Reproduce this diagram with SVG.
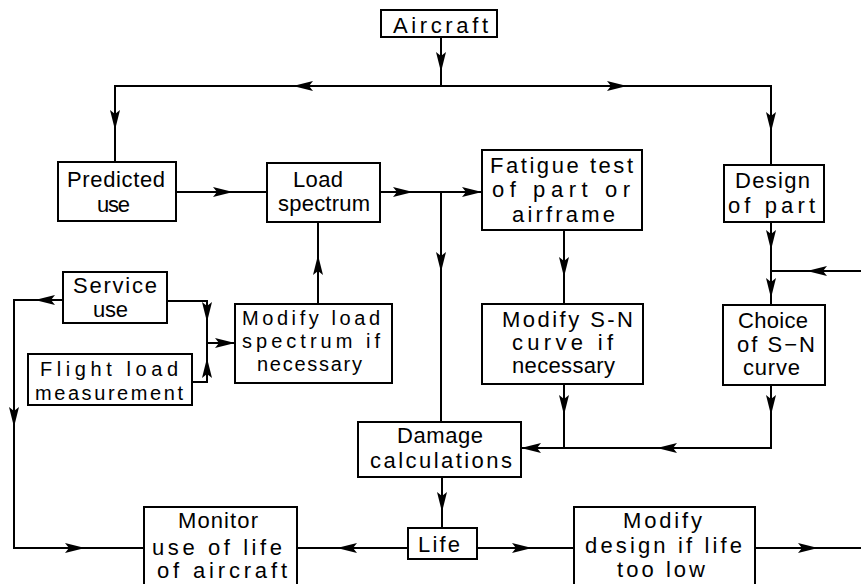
<svg xmlns="http://www.w3.org/2000/svg" width="861" height="584" viewBox="0 0 861 584">
  <style>
    .box { fill: #fff; stroke: #000; stroke-width: 2; }
    .lbl { font-family: "Liberation Sans", Arial, sans-serif; font-size: 22px; fill: #000; }
    .lbl.tight { font-size: 20px; }
    .wire { fill: none; stroke: #000; stroke-width: 2; }
  </style>
  <defs>
    <!-- arrowhead pointing along +x, tip at origin -->
    <path id="ah" d="M0,0 L-20,-5 L-16,0 L-20,5 Z" fill="#000"/>
  </defs>
  <rect width="861" height="584" fill="#fff"/>

  <g id="connectors">
    <path class="wire" d="M441,36 V86"/>
    <path class="wire" d="M115,162 V86 H771 V165"/>
    <path class="wire" d="M176,192 H267"/>
    <path class="wire" d="M380,192 H482"/>
    <path class="wire" d="M441,192 V422"/>
    <path class="wire" d="M564,230 V304"/>
    <path class="wire" d="M771,222 V305"/>
    <path class="wire" d="M861,271 H771"/>
    <path class="wire" d="M564,384 V448"/>
    <path class="wire" d="M771,385 V448 H521"/>
    <path class="wire" d="M442,477 V528"/>
    <path class="wire" d="M408,548 H297"/>
    <path class="wire" d="M477,548 H574"/>
    <path class="wire" d="M755,548 H861"/>
    <path class="wire" d="M63,300 H14 V548 H144"/>
    <path class="wire" d="M167,301 H207 V382 H192"/>
    <path class="wire" d="M207,343 H235"/>
    <path class="wire" d="M318,304 V222"/>

    <use href="#ah" transform="translate(441,72) rotate(90)"/>
    <use href="#ah" transform="translate(293,86) rotate(180)"/>
    <use href="#ah" transform="translate(627,86)"/>
    <use href="#ah" transform="translate(115,130) rotate(90)"/>
    <use href="#ah" transform="translate(771,132) rotate(90)"/>
    <use href="#ah" transform="translate(233,192)"/>
    <use href="#ah" transform="translate(413,192)"/>
    <use href="#ah" transform="translate(482,192)"/>
    <use href="#ah" transform="translate(441,272) rotate(90)"/>
    <use href="#ah" transform="translate(564,277) rotate(90)"/>
    <use href="#ah" transform="translate(771,250) rotate(90)"/>
    <use href="#ah" transform="translate(807,271) rotate(180)"/>
    <use href="#ah" transform="translate(771,298) rotate(90)"/>
    <use href="#ah" transform="translate(564,415) rotate(90)"/>
    <use href="#ah" transform="translate(771,415) rotate(90)"/>
    <use href="#ah" transform="translate(657,448) rotate(180)"/>
    <use href="#ah" transform="translate(521,448) rotate(180)"/>
    <use href="#ah" transform="translate(442,512) rotate(90)"/>
    <use href="#ah" transform="translate(337,548) rotate(180)"/>
    <use href="#ah" transform="translate(532,548)"/>
    <use href="#ah" transform="translate(818,548)"/>
    <use href="#ah" transform="translate(35,300) rotate(180)"/>
    <use href="#ah" transform="translate(14,427) rotate(90)"/>
    <use href="#ah" transform="translate(85,548)"/>
    <use href="#ah" transform="translate(207,322) rotate(90)"/>
    <use href="#ah" transform="translate(207,358) rotate(-90)"/>
    <use href="#ah" transform="translate(235,343)"/>
    <use href="#ah" transform="translate(318,255) rotate(-90)"/>
  </g>

  <g id="aircraft">
    <rect class="box" x="381" y="10" width="116" height="27"/>
    <text class="lbl" x="393" y="33" textLength="95">Aircraft</text>
  </g>

  <g id="predicted-use">
    <rect class="box" x="58" y="162" width="118" height="59"/>
    <text class="lbl" x="67" y="187" textLength="98">Predicted</text>
    <text class="lbl" x="97" y="212" textLength="33">use</text>
  </g>

  <g id="load-spectrum">
    <rect class="box" x="267" y="163" width="113" height="59"/>
    <text class="lbl" x="293" y="187" textLength="50">Load</text>
    <text class="lbl" x="278" y="211" textLength="92">spectrum</text>
  </g>

  <g id="fatigue-test">
    <rect class="box" x="482" y="150" width="160" height="80"/>
    <text class="lbl" x="490" y="173" textLength="143">Fatigue test</text>
    <text class="lbl" x="492" y="197" textLength="138">of part or</text>
    <text class="lbl" x="512" y="222" textLength="103">airframe</text>
  </g>

  <g id="design-of-part">
    <rect class="box" x="724" y="165" width="100" height="57"/>
    <text class="lbl" x="735" y="188" textLength="75">Design</text>
    <text class="lbl" x="728" y="213" textLength="87">of part</text>
  </g>

  <g id="service-use">
    <rect class="box" x="63" y="272" width="104" height="51"/>
    <text class="lbl" x="73" y="293" textLength="84">Service</text>
    <text class="lbl" x="93" y="317" textLength="35">use</text>
  </g>

  <g id="flight-load">
    <rect class="box" x="28" y="354" width="164" height="51"/>
    <text class="lbl tight" x="40" y="376" textLength="138">Flight load</text>
    <text class="lbl tight" x="35" y="400" textLength="148">measurement</text>
  </g>

  <g id="modify-load">
    <rect class="box" x="235" y="304" width="157" height="79"/>
    <text class="lbl tight" x="242" y="325" textLength="138">Modify load</text>
    <text class="lbl tight" x="242" y="348" textLength="138">spectrum if</text>
    <text class="lbl tight" x="257" y="371" textLength="105">necessary</text>
  </g>

  <g id="modify-sn">
    <rect class="box" x="482" y="304" width="161" height="80"/>
    <text class="lbl" x="502" y="327" textLength="131">Modify S-N</text>
    <text class="lbl" x="512" y="350" textLength="101">curve if</text>
    <text class="lbl" x="512" y="373" textLength="103">necessary</text>
  </g>

  <g id="choice-sn">
    <rect class="box" x="723" y="305" width="102" height="80"/>
    <text class="lbl" x="738" y="328" textLength="70">Choice</text>
    <text class="lbl" x="737" y="352" textLength="78">of S−N</text>
    <text class="lbl" x="743" y="375" textLength="57">curve</text>
  </g>

  <g id="damage">
    <rect class="box" x="358" y="422" width="163" height="55"/>
    <text class="lbl" x="397" y="443" textLength="86">Damage</text>
    <text class="lbl" x="370" y="468" textLength="142">calculations</text>
  </g>

  <g id="life">
    <rect class="box" x="408" y="528" width="69" height="31"/>
    <text class="lbl" x="418" y="552" textLength="42">Life</text>
  </g>

  <g id="monitor">
    <rect class="box" x="144" y="507" width="153" height="80"/>
    <text class="lbl" x="178" y="528" textLength="80">Monitor</text>
    <text class="lbl" x="152" y="555" textLength="130">use of life</text>
    <text class="lbl" x="157" y="578" textLength="130">of aircraft</text>
  </g>

  <g id="modify-design">
    <rect class="box" x="574" y="507" width="181" height="80"/>
    <text class="lbl" x="623" y="528" textLength="79">Modify</text>
    <text class="lbl" x="585" y="553" textLength="157">design if life</text>
    <text class="lbl" x="617" y="577" textLength="88">too low</text>
  </g>
</svg>
